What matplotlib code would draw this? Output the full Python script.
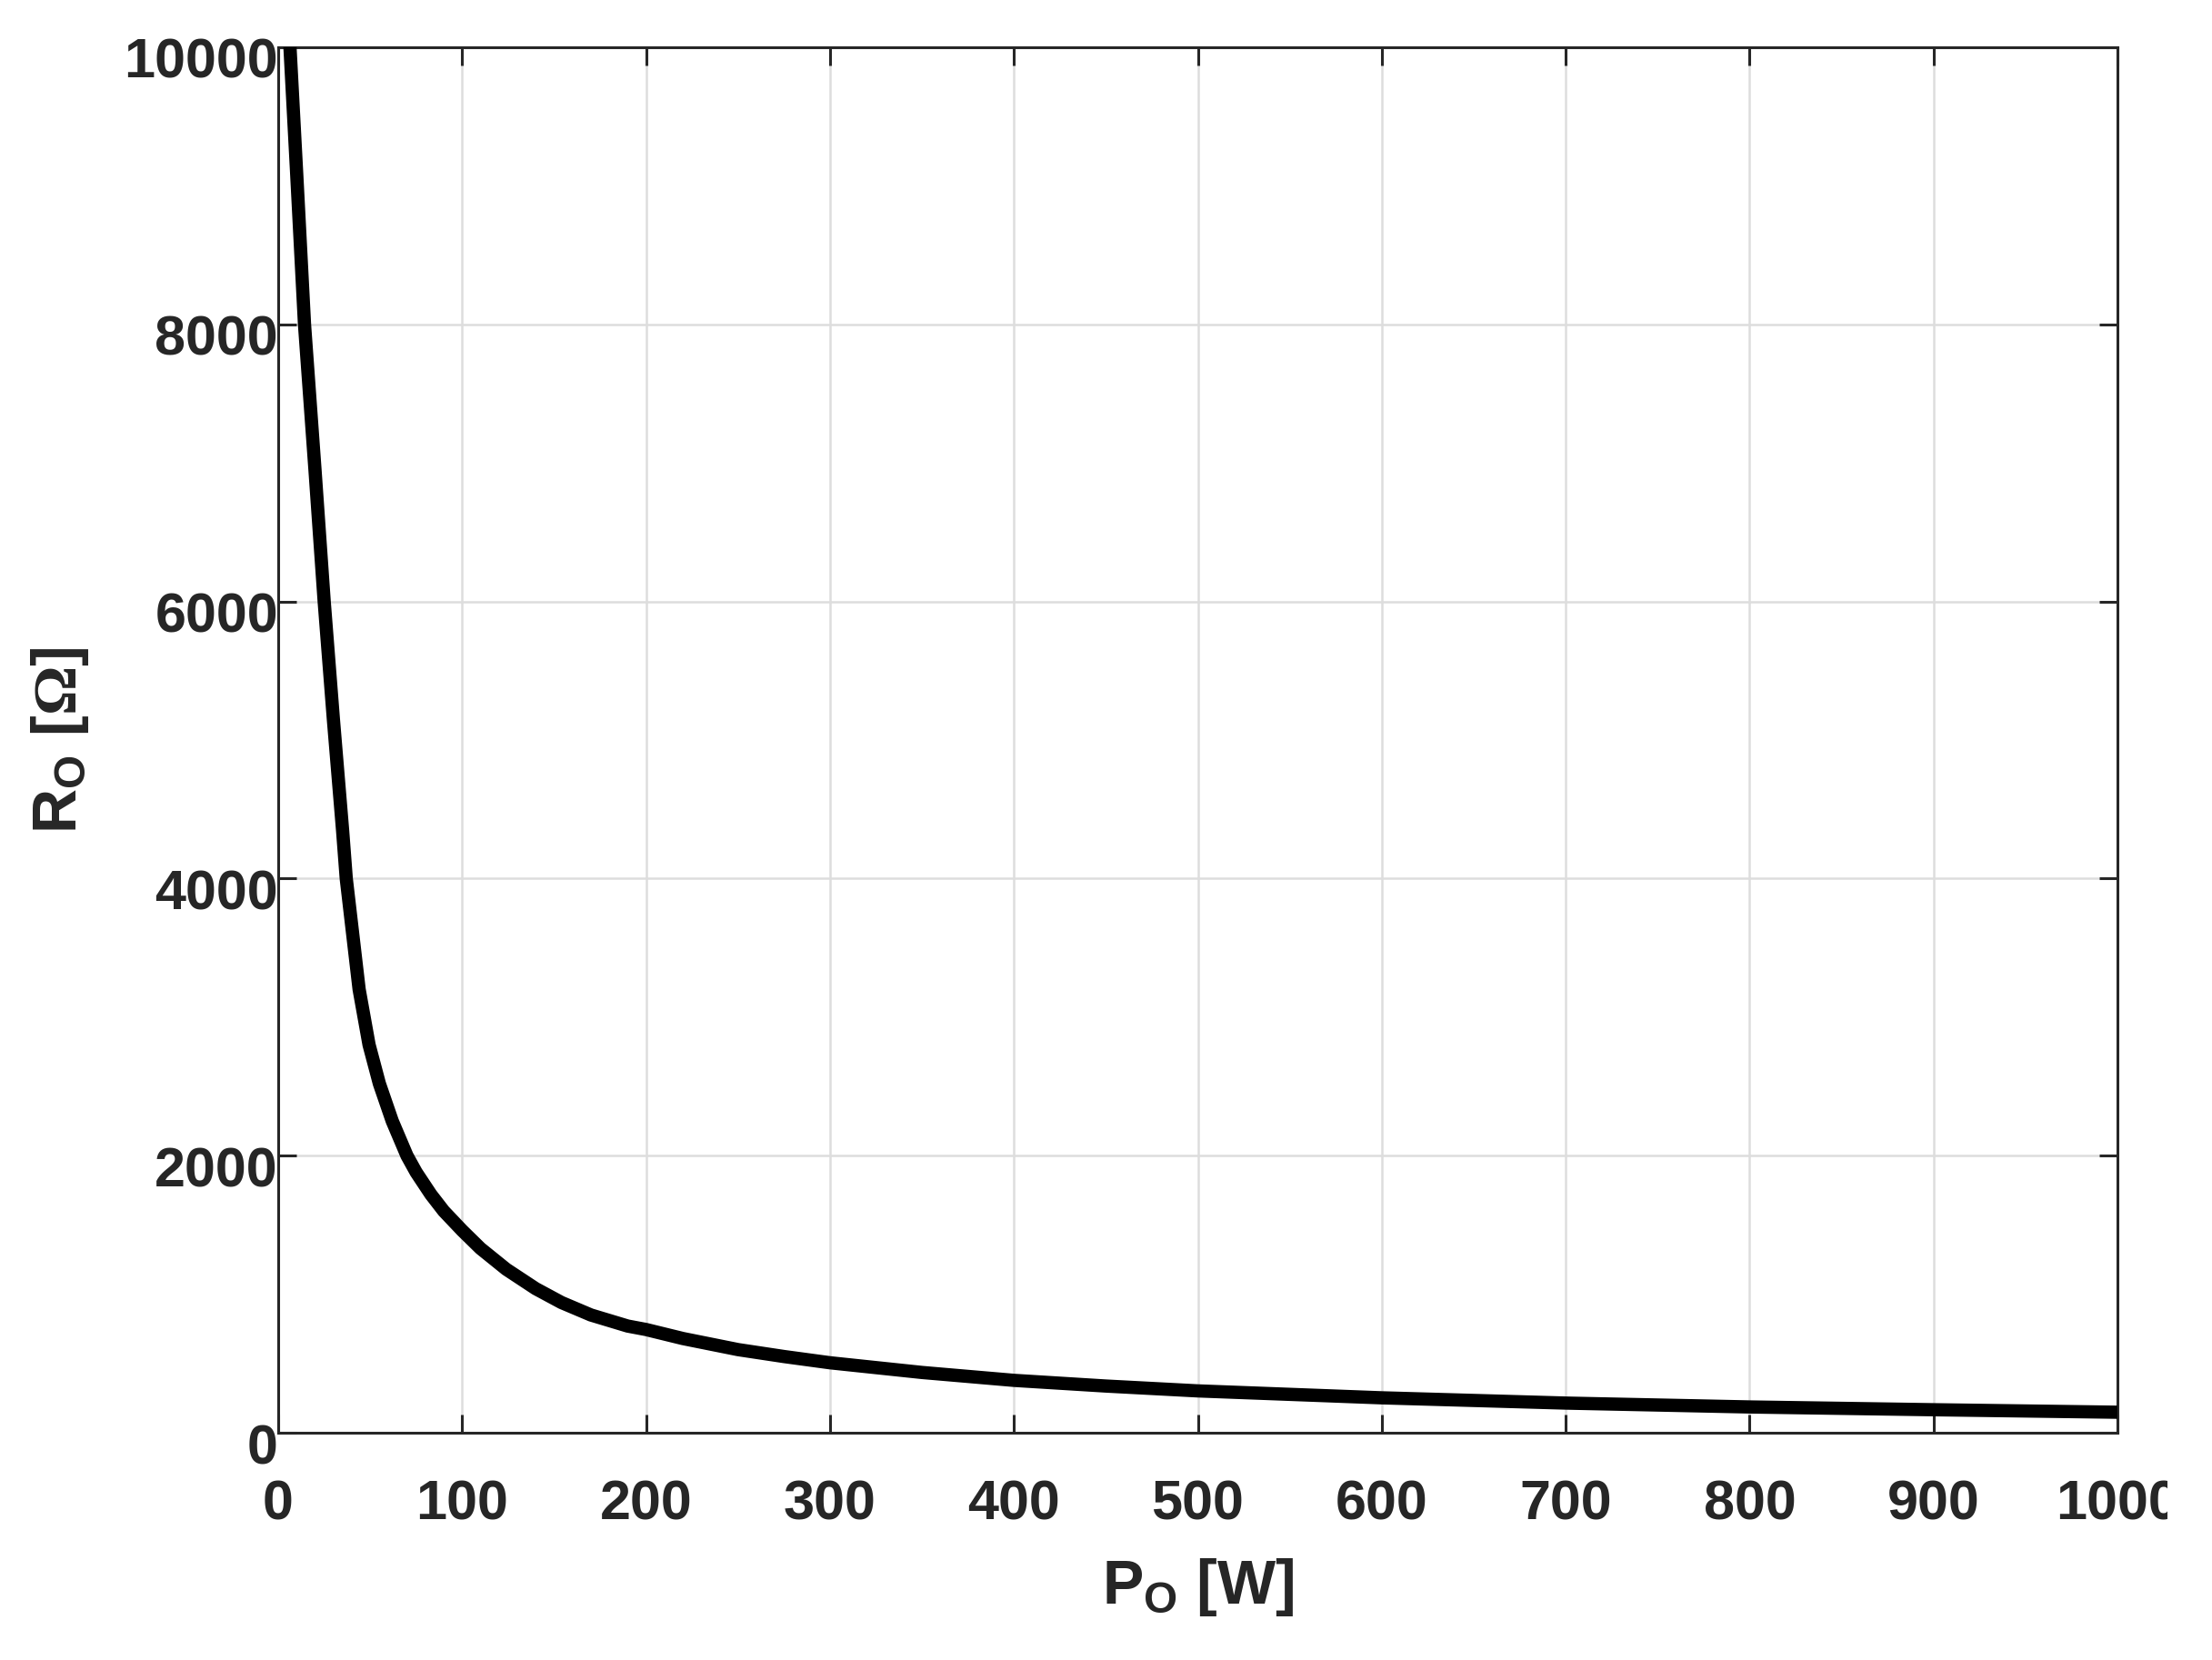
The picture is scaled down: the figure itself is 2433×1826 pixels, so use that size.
import matplotlib
matplotlib.use("Agg")
import matplotlib.pyplot as plt
from matplotlib.transforms import Bbox, TransformedBbox, ScaledTranslation

plt.rcParams['font.family'] = ['Liberation Sans', 'DejaVu Sans']
plt.rcParams['font.weight'] = 'bold'
plt.rcParams['mathtext.fontset'] = 'custom'
plt.rcParams['mathtext.rm'] = 'Liberation Sans:bold'
plt.rcParams['mathtext.bf'] = 'Liberation Sans:bold'
plt.rcParams['mathtext.cal'] = 'Liberation Serif:bold'

# values
p_out = [5.5, 6.4, 10, 14.3, 20, 25, 30, 35, 37, 44, 49.4, 55, 62, 70, 75, 83,
         90, 100, 110, 124, 140, 154, 170, 190, 200, 220, 250, 275, 300, 350,
         400, 450, 500, 600, 700, 800, 900, 1000]
r_out = [10250, 10000, 9100, 8000, 6950, 6000, 5150, 4350, 4000, 3200, 2800,
         2520, 2250, 2000, 1880, 1720, 1600, 1460, 1330, 1180, 1040, 940, 850,
         770, 745, 680, 600, 550, 505, 435, 378, 337, 302, 252, 214, 186, 166,
         148]

x_ticks = list(range(0, 1001, 100))
y_ticks = list(range(0, 10001, 2000))

W, H = 2433, 1826
fig = plt.figure(figsize=(W / 100, H / 100), dpi=100)
ax = fig.add_axes([306 / W, 1 - 1576 / H, 2023 / W, 1524 / H])

ax.plot(p_out, r_out, color='black', lw=10.5, solid_capstyle='butt',
        solid_joinstyle='round', zorder=3)

ax.set_xlim(0, 1000)
ax.set_ylim(0, 10000)
ax.set_xticks(x_ticks)
ax.set_yticks(y_ticks)

ax.grid(True, color='#dddddd', lw=1.8)
ax.set_axisbelow(True)
for s in ax.spines.values():
    s.set_linewidth(2.2)
    s.set_color('#262626')

ax.tick_params(direction='in', length=14.5, width=2.2, color='#262626',
               labelsize=44, labelcolor='#262626', top=True, right=True)
ax.tick_params(axis='x', pad=37)
ax.tick_params(axis='y', pad=0)

# MATLAB-style offset of y tick labels (slightly below the tick)
off = ScaledTranslation(0, -12 / 100, fig.dpi_scale_trans)
for lbl in ax.get_yticklabels():
    lbl.set_transform(lbl.get_transform() + off)

# the last x label is cut off at the image edge in the reference
clip = TransformedBbox(Bbox([[0, 0], [2384 / W, 1]]), fig.transFigure)
for lbl in ax.get_xticklabels():
    lbl.set_clip_on(True)
    lbl.set_clip_box(clip)

ax.set_xlabel(r'$\mathbf{P_O}$ [W]', fontsize=49, fontweight='bold',
              color='#262626', labelpad=20)
ax.set_ylabel(r'$\mathbf{R_O}$ [$\mathcal{\Omega}$]', fontsize=49,
              fontweight='bold', color='#262626', labelpad=26)

fig.savefig('out.png', dpi=100, facecolor='white')
